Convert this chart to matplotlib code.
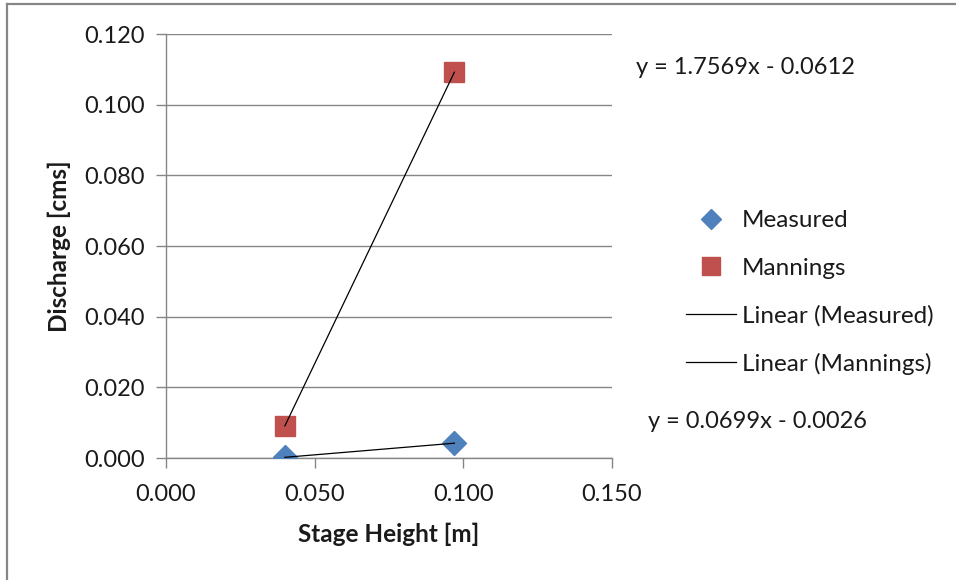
import numpy as np
import matplotlib
matplotlib.use("Agg")
import matplotlib.pyplot as plt
from matplotlib.lines import Line2D

plt.rcParams['font.family'] = ['Lato', 'DejaVu Sans']

# data
stage_height = [0.040, 0.097]
measured = [0.0002, 0.0042]
mannings = [0.0091, 0.1092]
eq_measured = "y = 0.0699x - 0.0026"
eq_mannings = "y = 1.7569x - 0.0612"
x_ticks = [0.000, 0.050, 0.100, 0.150]
y_ticks = [0.000, 0.020, 0.040, 0.060, 0.080, 0.100, 0.120]

blue = '#4F81BD'
red = '#C0504D'
grey = '#868686'
text_col = '#1a1a1a'

fig = plt.figure(figsize=(9.56, 5.8), dpi=100)
ax = fig.add_axes([0.1736, 0.2103, 0.4665, 0.7310])

# gridlines behind everything
ax.set_axisbelow(True)
ax.grid(axis='y', color=grey, linewidth=1.0)

# linear trendlines over the data range
xs = np.array(stage_height)
for ys in (measured, mannings):
    k, b = np.polyfit(xs, ys, 1)
    ax.plot(xs, k * xs + b, color='black', linewidth=0.9, zorder=4)

ax.plot(stage_height, measured, linestyle='none', marker='D', markersize=12,
        color=blue, zorder=3)
ax.plot(stage_height, mannings, linestyle='none', marker='s', markersize=15,
        color=red, zorder=3)

ax.set_xlim(0, 0.150)
ax.set_ylim(0, 0.120)
ax.set_xticks(x_ticks)
ax.set_yticks(y_ticks)
ax.set_xticklabels([f"{v:.3f}" for v in x_ticks])
ax.set_yticklabels([f"{v:.3f}" for v in y_ticks])
ax.tick_params(labelsize=17, colors=grey, labelcolor=text_col, length=7,
               width=1.0, direction='out')
ax.tick_params(axis='y', pad=8)
ax.tick_params(axis='x', pad=12)

for side in ('top', 'right'):
    ax.spines[side].set_visible(False)
for side in ('left', 'bottom'):
    ax.spines[side].set_color(grey)
    ax.spines[side].set_linewidth(1.0)

ax.set_xlabel('Stage Height [m]', fontsize=17.5, fontweight='bold',
              color=text_col)
ax.set_ylabel('Discharge [cms]', fontsize=17.5, fontweight='bold',
              color=text_col)
ax.xaxis.set_label_coords(0.5, -0.152)
ax.yaxis.set_label_coords(-0.213, 0.5)

handles = [
    Line2D([], [], linestyle='none', marker='D', markersize=10, color=blue),
    Line2D([], [], linestyle='none', marker='s', markersize=13, color=red),
    Line2D([], [], color='black', linewidth=0.9),
    Line2D([], [], color='black', linewidth=0.9),
]
labels = ['Measured', 'Mannings', 'Linear (Measured)', 'Linear (Mannings)']
leg = fig.legend(handles, labels, loc='center left',
                 bbox_to_anchor=(0.7176, 0.4957), frameon=False,
                 fontsize=17.5, handlelength=2.06, handletextpad=0.25,
                 labelspacing=1.08, borderpad=0, borderaxespad=0)
for t in leg.get_texts():
    t.set_color(text_col)

fig.text(636 / 956, 1 - 67 / 580, eq_mannings, fontsize=17, va='center',
         ha='left', color=text_col)
fig.text(648 / 956, 1 - 421 / 580, eq_measured, fontsize=17, va='center',
         ha='left', color=text_col)

# chart area border (only top and left visible)
fig.add_artist(Line2D([7 / 956, 1], [1 - 4 / 580, 1 - 4 / 580],
                      transform=fig.transFigure, color=grey, linewidth=1.6))
fig.add_artist(Line2D([7 / 956, 7 / 956], [0, 1 - 4 / 580],
                      transform=fig.transFigure, color=grey, linewidth=1.6))

fig.savefig('out.png', dpi=100)
